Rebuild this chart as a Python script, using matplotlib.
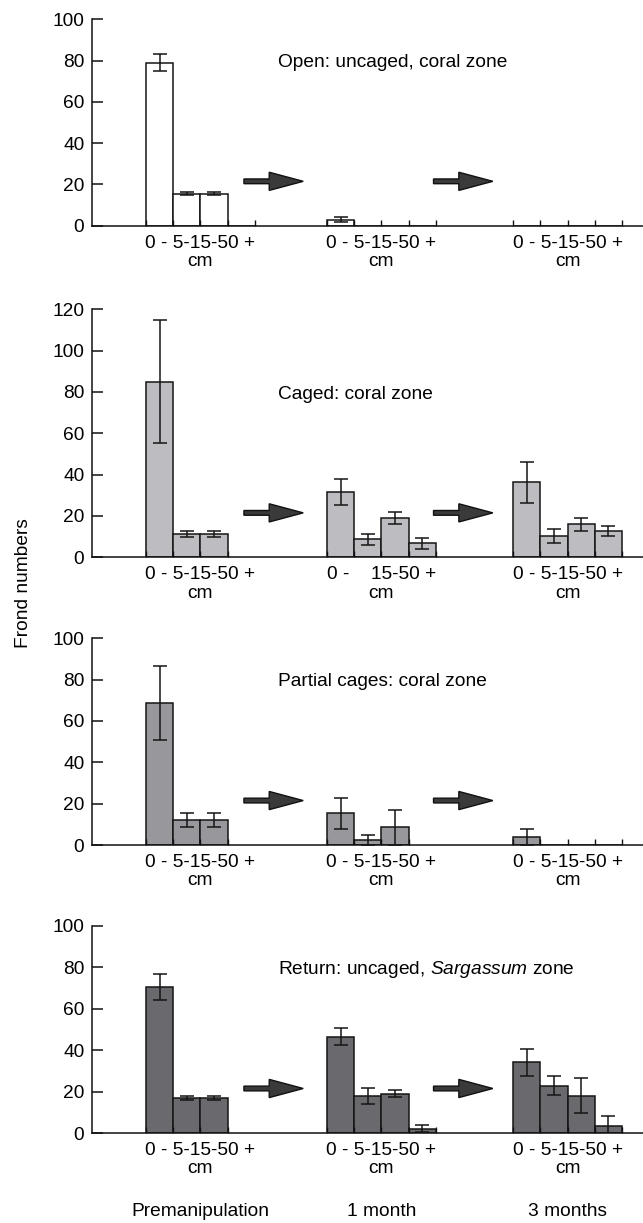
import numpy as np
import matplotlib
matplotlib.use("Agg")
import matplotlib.pyplot as plt
from matplotlib.patches import FancyArrow
from matplotlib import transforms

plt.rcParams['font.family'] = ['Liberation Sans', 'DejaVu Sans']
plt.rcParams['mathtext.fontset'] = 'custom'
plt.rcParams['mathtext.rm'] = 'Liberation Sans'
plt.rcParams['mathtext.it'] = 'Liberation Sans:italic'

nan = np.nan

# ---------------- data ----------------
size_classes = ["0-5", "5-15", "15-50", "50+"]
periods = ["Premanipulation", "1 month", "3 months"]

open_mean = [[79, 15.5, 15.5, 0], [3, 0, 0, 0], [0, 0, 0, 0]]
open_err = [[4, 0.8, 0.8, 0], [1.2, 0, 0, 0], [0, 0, 0, 0]]

caged_mean = [[85, 11.3, 11.3, nan], [31.5, 8.7, 19, 6.8], [36.3, 10.3, 16, 12.6]]
caged_err = [[29.7, 1.4, 1.4, nan], [6.2, 2.8, 2.9, 2.7], [10, 3.2, 3.2, 2.4]]

partial_mean = [[68.6, 12.2, 12.2, nan], [15.3, 2.2, 8.5, nan], [3.7, 0, 0, 0]]
partial_err = [[18, 3.4, 3.4, nan], [7.5, 2.4, 8.6, nan], [3.8, 0, 0, 0]]

return_mean = [[70.6, 17.1, 17.1, nan], [46.5, 18, 19, 2.1], [34.2, 22.9, 18, 3.5]]
return_err = [[6.2, 1, 1, nan], [4.2, 3.9, 1.8, 1.6], [6.6, 4.7, 8.5, 4.7]]

panel_titles = ["Open: uncaged, coral zone",
                "Caged: coral zone",
                "Partial cages: coral zone",
                "Return: uncaged, $\\mathit{Sargassum}$ zone"]

label_full = "0 - 5-15-50 +\ncm"
label_gap = "0 -    15-50 +\ncm"
group_labels = [[label_full] * 3,
                [label_full, label_gap, label_full],
                [label_full] * 3,
                [label_full] * 3]

means = [open_mean, caged_mean, partial_mean, return_mean]
errs = [open_err, caged_err, partial_err, return_err]
colors = ["#ffffff", "#bdbdc1", "#98989c", "#6a6a6e"]
ymaxes = [100, 120, 100, 100]

# ---------------- layout ----------------
W, H = 643, 1223
fig = plt.figure(figsize=(W / 100, H / 100), dpi=100)

# (top px, bottom px) of each panel
panel_px = [(19.3, 225.7), (309.3, 557.3), (638.3, 845.0), (926.0, 1133.0)]
left_px, right_px = 92, 643

group_starts = [0.0, 6.65, 13.5]
arrow_starts = [3.6, 10.57]
xlim = (-1.985, 18.27)
FS = 13.8

axes = []
for p in range(4):
    top, bot = panel_px[p]
    ax = fig.add_axes([left_px / W, 1 - bot / H, (right_px - left_px) / W, (bot - top) / H])
    axes.append(ax)
    ax.set_xlim(*xlim)
    ax.set_ylim(0, ymaxes[p])
    for s in ['top', 'right']:
        ax.spines[s].set_visible(False)
    for s in ['left', 'bottom']:
        ax.spines[s].set_linewidth(1.1)
        ax.spines[s].set_color('#111111')

    edges = []
    centers = []
    for g in range(3):
        m = np.array(means[p][g], dtype=float)
        e = np.array(errs[p][g], dtype=float)
        xs = group_starts[g] + np.arange(4) + 0.5
        ok = ~np.isnan(m)
        ax.bar(xs[ok], m[ok], width=1.0, color=colors[p], edgecolor='#151515',
               linewidth=1.1, zorder=1)
        eb = ok & (m > 0) & (e > 0)
        if eb.any():
            ax.errorbar(xs[eb], m[eb], yerr=e[eb], fmt='none', ecolor='#151515',
                        elinewidth=1.1, capsize=4.8, capthick=1.1, zorder=3)
        for i in range(4):
            if ok[i]:
                edges.extend([xs[i] - 0.5, xs[i] + 0.5])
        centers.append(group_starts[g] + 2.0)

    ax.xaxis.remove_overlapping_locs = False
    ax.set_xticks(sorted(set(np.round(edges, 4))))
    ax.set_xticklabels([])
    ax.tick_params(axis='x', which='major', direction='in', length=4.5, width=1.0,
                   color='#111111')
    ax.set_xticks(centers, minor=True)
    ax.set_xticklabels(group_labels[p], minor=True, fontsize=FS, linespacing=1.1)
    ax.tick_params(axis='x', which='minor', length=0, pad=6.5)

    ax.set_yticks(np.arange(0, ymaxes[p] + 1, 20))
    ax.tick_params(axis='y', direction='in', length=8, width=1.1, pad=5.5,
                   labelsize=FS, color='#111111')

    # arrows
    for a in arrow_starts:
        arr = FancyArrow(a, 21.5, 2.18, 0, width=2.3, head_width=8.8,
                         head_length=1.25, length_includes_head=True,
                         facecolor='#3a3a3a', edgecolor='#111111', linewidth=1.0,
                         zorder=4)
        ax.add_patch(arr)

    ax.text(4.85, 79, panel_titles[p], fontsize=FS, ha='left', va='center')

fig.text(24 / W, 1 - 583 / H, "Frond numbers", rotation=90, fontsize=FS,
         ha='center', va='center')

trans = transforms.blended_transform_factory(axes[3].transData, fig.transFigure)
for g, name in enumerate(periods):
    axes[3].text(group_starts[g] + 2.0, 1 - 1211.7 / H, name, transform=trans,
                 fontsize=FS, ha='center', va='center', clip_on=False)

fig.savefig("out.png", dpi=100)
